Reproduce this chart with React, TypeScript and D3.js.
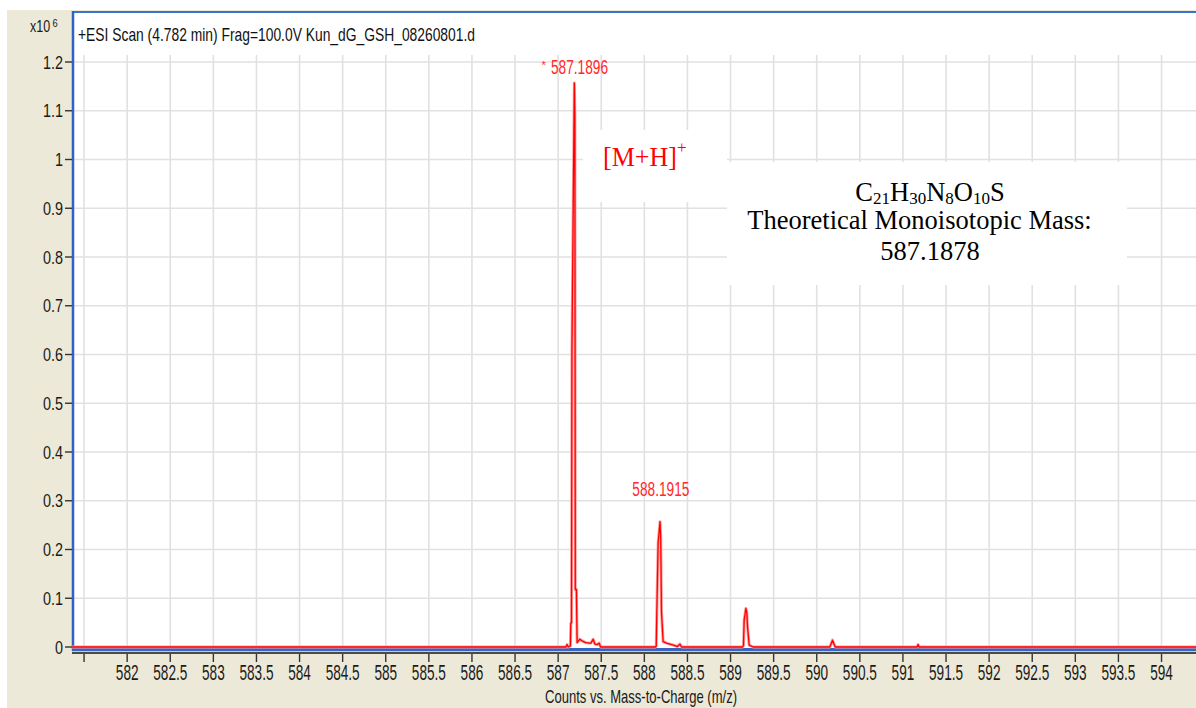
import React, { useRef, useEffect } from 'react';
import * as d3 from 'd3';

const W = 1196;
const H = 708;

const TITLE = '+ESI Scan (4.782 min) Frag=100.0V Kun_dG_GSH_08260801.d';
const X_TITLE = 'Counts vs. Mass-to-Charge (m/z)';

const X_TICKS = [581.5, 582, 582.5, 583, 583.5, 584, 584.5, 585, 585.5, 586, 586.5, 587, 587.5,
  588, 588.5, 589, 589.5, 590, 590.5, 591, 591.5, 592, 592.5, 593, 593.5, 594];
const X_TICK_LABELS = ['', '582', '582.5', '583', '583.5', '584', '584.5', '585', '585.5', '586', '586.5',
  '587', '587.5', '588', '588.5', '589', '589.5', '590', '590.5', '591', '591.5', '592', '592.5',
  '593', '593.5', '594'];
const Y_TICKS = [0, 0.1, 0.2, 0.3, 0.4, 0.5, 0.6, 0.7, 0.8, 0.9, 1, 1.1, 1.2];
const Y_TICK_LABELS = ['0', '0.1', '0.2', '0.3', '0.4', '0.5', '0.6', '0.7', '0.8', '0.9', '1', '1.1', '1.2'];

// spectrum (counts x10^6)
const MZ = [581.36, 587.09, 587.104, 587.118, 587.142, 587.147, 587.155, 587.16, 587.188, 587.194,
  587.199, 587.212, 587.22, 587.252, 587.283, 587.321, 587.36, 587.38, 587.406, 587.426, 587.455,
  587.476, 587.492,
  588.13, 588.138, 588.143, 588.16, 588.182, 588.19, 588.199, 588.218, 588.258, 588.296, 588.335,
  588.385, 588.412, 588.432,
  589.14, 589.15, 589.158, 589.178, 589.189, 589.197, 589.216, 589.262,
  590.152, 590.183, 590.214,
  591.165, 591.176, 591.187, 594.4];
const COUNTS = [0, 0, 0.005, 0, 0.002, 0.049, 0.05, 0.61, 1.157, 1.087,
  0.118, 0.118, 0.009, 0.016, 0.012, 0.009, 0.008, 0.008, 0.016, 0.006, 0.005,
  0.008, 0,
  0, 0.002, 0.055, 0.213, 0.257, 0.221, 0.072, 0.011, 0.008, 0.006, 0.004,
  0.001, 0.006, 0,
  0, 0.003, 0.055, 0.079, 0.07, 0.042, 0.004, 0,
  0, 0.014, 0,
  0, 0.005, 0, 0];

const PEAK_MZ = [587.1896, 588.1915];
const PEAK_TEXT = ['587.1896', '588.1915'];
const PEAK_STAR = [true, false];
const PEAK_LABEL_LEVEL = [1.175, 0.31];

const SANS = '"Liberation Sans", Arial, sans-serif';
const SERIF = '"Liberation Serif", "Times New Roman", serif';

export default function App() {
  const svgRef = useRef<SVGSVGElement>(null);

  useEffect(() => {
    const svg = d3.select(svgRef.current);
    svg.selectAll('*').remove();

    const x = d3.scaleLinear().domain([581.36, 594.4]).range([72, W]);
    const y = d3.scaleLinear().domain([0, 1.2]).range([647, 62]);

    // narrow, tall sans text like the instrument software
    const narrow = (px: number, py: number, str: string, size: number, sx: number,
      anchor = 'start', fill = '#1a1a1a', sy = 1) =>
      svg.append('text')
        .attr('transform', `translate(${px},${py}) scale(${sx},${sy})`)
        .attr('text-anchor', anchor)
        .attr('font-family', SANS)
        .attr('font-size', size)
        .attr('fill', fill)
        .text(str);

    // panels
    svg.append('rect').attr('width', W).attr('height', H).attr('fill', '#fff');
    svg.append('rect').attr('x', 7).attr('y', 10).attr('width', W - 7).attr('height', H - 10).attr('fill', '#ece9d8');
    svg.append('rect').attr('x', 72).attr('y', 11).attr('width', W - 72).attr('height', 640).attr('fill', '#fff');

    // grid
    svg.append('g').selectAll('line').data(Y_TICKS.filter(d => d > 0)).enter().append('line')
      .attr('x1', 72).attr('x2', W)
      .attr('y1', d => y(d)).attr('y2', d => y(d))
      .attr('stroke', '#e1e1e1').attr('stroke-width', 1.6);
    svg.append('g').selectAll('line').data(X_TICKS).enter().append('line')
      .attr('x1', d => x(d)).attr('x2', d => x(d))
      .attr('y1', 55).attr('y2', 646)
      .attr('stroke', '#e1e1e1').attr('stroke-width', 1.6);

    // annotation boxes hide the grid
    svg.append('rect').attr('x', 583).attr('y', 130).attr('width', 144).attr('height', 72).attr('fill', '#fff');
    svg.append('rect').attr('x', 727).attr('y', 162).attr('width', 400).attr('height', 123).attr('fill', '#fff');

    // frame
    svg.append('line').attr('x1', 72).attr('x2', W).attr('y1', 12).attr('y2', 12)
      .attr('stroke', '#3a72d0').attr('stroke-width', 2);
    svg.append('rect').attr('x', 72).attr('y', 648).attr('width', W - 72).attr('height', 3.2).attr('fill', '#3566c6');
    svg.append('line').attr('x1', 73).attr('x2', 73).attr('y1', 11).attr('y2', 651)
      .attr('stroke', '#2f62c4').attr('stroke-width', 2.5);

    // x axis
    svg.append('rect').attr('x', 72).attr('y', 652).attr('width', W - 72).attr('height', 2).attr('fill', '#4a4a4a');
    svg.append('g').selectAll('line').data(X_TICKS).enter().append('line')
      .attr('x1', d => x(d)).attr('x2', d => x(d))
      .attr('y1', 654).attr('y2', 662)
      .attr('stroke', '#333').attr('stroke-width', 1.4);
    X_TICKS.forEach((t, i) => {
      if (X_TICK_LABELS[i]) narrow(x(t), 679.5, X_TICK_LABELS[i], 20, 0.68, 'middle', '#1a1a1a', 1.08);
    });
    svg.append('text')
      .attr('x', 545).attr('y', 703)
      .attr('font-family', SANS).attr('font-size', 19)
      .attr('textLength', 192).attr('lengthAdjust', 'spacingAndGlyphs')
      .attr('fill', '#1a1a1a')
      .text(X_TITLE);

    // y axis
    svg.append('g').selectAll('line').data(Y_TICKS).enter().append('line')
      .attr('x1', 65).attr('x2', 72)
      .attr('y1', d => y(d)).attr('y2', d => y(d))
      .attr('stroke', '#333').attr('stroke-width', 1.4);
    Y_TICKS.forEach((t, i) => narrow(63, y(t) + 6.5, Y_TICK_LABELS[i], 18, 0.8, 'end'));
    narrow(30, 32, 'x10', 16, 0.78);
    narrow(52.5, 27, '6', 11, 0.85);

    // title
    svg.append('text')
      .attr('x', 78).attr('y', 41)
      .attr('font-family', SANS).attr('font-size', 18.5)
      .attr('textLength', 397).attr('lengthAdjust', 'spacingAndGlyphs')
      .attr('fill', '#111')
      .text(TITLE);

    // spectrum trace
    const pts = MZ.map((m, i) => [m, COUNTS[i]] as [number, number]);
    const line = d3.line<[number, number]>().x(d => x(d[0])).y(d => y(d[1]));
    svg.append('path').attr('d', line(pts)).attr('fill', 'none')
      .attr('stroke', '#ff9c9c').attr('stroke-width', 3).attr('stroke-linejoin', 'round');
    svg.append('path').attr('d', line(pts)).attr('fill', 'none')
      .attr('stroke', '#ff0000').attr('stroke-width', 1.3).attr('stroke-linejoin', 'round');

    // peak labels
    PEAK_MZ.forEach((m, i) => {
      const cx = x(m) + (PEAK_STAR[i] ? 5 : 0);
      const by = y(PEAK_LABEL_LEVEL[i]);
      svg.append('text')
        .attr('x', cx - 28.5).attr('y', by)
        .attr('font-family', SANS).attr('font-size', 19.5)
        .attr('textLength', 57).attr('lengthAdjust', 'spacingAndGlyphs')
        .attr('fill', '#ff2a2a')
        .text(PEAK_TEXT[i]);
      if (PEAK_STAR[i]) {
        svg.append('text')
          .attr('x', cx - 38).attr('y', by - 5)
          .attr('font-family', SANS).attr('font-size', 11)
          .attr('fill', '#ff2a2a')
          .text('*');
      }
    });

    // [M+H]+ annotation
    svg.append('text')
      .attr('transform', 'translate(603,166) scale(1,1.08)')
      .attr('font-family', SERIF).attr('font-size', 26)
      .attr('fill', '#ff0000')
      .text('[M+H]');
    svg.append('text')
      .attr('x', 677).attr('y', 153)
      .attr('font-family', SERIF).attr('font-size', 17)
      .attr('fill', '#ff0000')
      .text('+');

    // formula annotation
    const f = svg.append('text')
      .attr('x', 930).attr('y', 200.5)
      .attr('text-anchor', 'middle')
      .attr('font-family', SERIF).attr('font-size', 26.5)
      .attr('fill', '#000');
    const parts: [string, string][] = [['C', '21'], ['H', '30'], ['N', '8'], ['O', '10'], ['S', '']];
    parts.forEach(([el, n], i) => {
      f.append('tspan').attr('dy', i === 0 ? 0 : -3).text(el);
      if (n) f.append('tspan').attr('font-size', 17).attr('dy', 3).text(n);
    });
    svg.append('text')
      .attr('x', 919.5).attr('y', 229.3)
      .attr('text-anchor', 'middle')
      .attr('font-family', SERIF).attr('font-size', 26.5)
      .attr('fill', '#000')
      .text('Theoretical Monoisotopic Mass:');
    svg.append('text')
      .attr('x', 930).attr('y', 260)
      .attr('text-anchor', 'middle')
      .attr('font-family', SERIF).attr('font-size', 26.5)
      .attr('fill', '#000')
      .text('587.1878');
  }, []);

  return (
    <svg ref={svgRef} width={W} height={H} style={{ position: 'absolute', left: 0, top: 0 }} />
  );
}
